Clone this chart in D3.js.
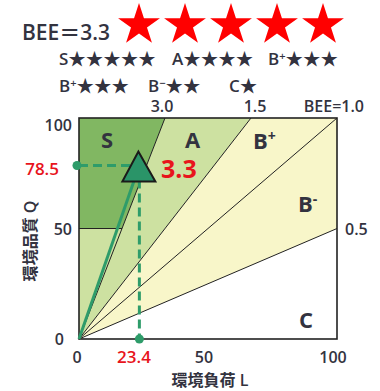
<!DOCTYPE html>
<meta charset="utf-8">
<script src="https://d3js.org/d3.v7.min.js"></script>
<style>
  body { margin: 0; background: #fff; }
  text { font-family: "Open Sans", "Noto Sans CJK JP", sans-serif; }
  .cjk { font-family: "Noto Sans CJK JP", sans-serif; }
</style>
<div id="chart"></div>
<script>

// BEE boundary lines (Q = BEE * L)
var beeLines = [3.0, 1.5, 1.0, 0.5];
var beeLabels = ["3.0", "1.5", "BEE=1.0", "0.5"];
// the assessed building
var pointL = 23.4, pointQ = 78.5, pointBee = 3.3;
var starCount = 5;
// rank legend rows
var rankRow1 = [{r: "S", sup: "", stars: 5}, {r: "A", sup: "", stars: 4}, {r: "B", sup: "+", stars: 3}];
var rankRow2 = [{r: "B", sup: "+", stars: 3}, {r: "B", sup: "\u2212", stars: 2}, {r: "C", sup: "", stars: 1}];
var xTicks = [0, 50, 100];
var yTicks = [0, 50, 100];

var W = 380, H = 391;
var svg = d3.select("#chart").append("svg").attr("width", W).attr("height", H);

var x = d3.scaleLinear().domain([0, 100]).range([79, 337]);
var y = d3.scaleLinear().domain([0, 100]).range([339, 118]);

var ink = "#33333f", red = "#e8141c", green = "#2e9c6a";

// regions
var regions = [
  {fill: "#cde1a1", pts: [[0,0],[0,50],[50/beeLines[0],50],[100/beeLines[0],100],[100/beeLines[1],100]]},
  {fill: "#81b762", pts: [[0,50],[0,100],[100/beeLines[0],100],[50/beeLines[0],50]]},
  {fill: "#f8f6c9", pts: [[0,0],[100/beeLines[1],100],[100,100],[100,100*beeLines[3]]]}
];
var line = d3.line().x(function(d){ return x(d[0]); }).y(function(d){ return y(d[1]); });
svg.selectAll(".reg").data(regions).enter().append("path")
  .attr("d", function(d){ return line(d.pts) + "Z"; })
  .attr("fill", function(d){ return d.fill; });

// S bottom edge
svg.append("path").attr("d", line([[0,50],[50/beeLines[0],50]]))
  .attr("stroke", "#222").attr("stroke-width", 1).attr("fill", "none");

// BEE lines
svg.selectAll(".bee").data(beeLines).enter().append("path")
  .attr("d", function(b){
    var end = b >= 1 ? [100 / b, 100] : [100, 100 * b];
    return line([[0,0], end]);
  })
  .attr("stroke", "#222").attr("stroke-width", 1).attr("fill", "none");

// frame
svg.append("rect").attr("x", x(0)).attr("y", y(100))
  .attr("width", x(100) - x(0)).attr("height", y(0) - y(100))
  .attr("fill", "none").attr("stroke", "#222").attr("stroke-width", 1.6);

// BEE labels
var beePos = [[162, 112, "middle"], [255, 112, "middle"], [364, 112, "end"], [345, 235, "start"]];
svg.selectAll(".bl").data(beeLabels).enter().append("text")
  .attr("x", function(d, i){ return beePos[i][0]; })
  .attr("y", function(d, i){ return beePos[i][1]; })
  .attr("text-anchor", function(d, i){ return beePos[i][2]; })
  .attr("font-size", 16).attr("font-weight", 600).attr("fill", ink)
  .text(function(d){ return d; });

// ticks
var yTickBase = {0: 345, 50: 235, 100: 131};
svg.selectAll(".yt").data(yTicks).enter().append("text")
  .attr("x", function(d){ return d === 0 ? 64 : 72; })
  .attr("y", function(d){ return yTickBase[d]; })
  .attr("text-anchor", "end").attr("font-size", 16).attr("font-weight", 600).attr("fill", ink)
  .text(function(d){ return d; });
svg.selectAll(".xt").data(xTicks).enter().append("text")
  .attr("x", function(d){ return d === 0 ? x(d) - 2 : x(d) - 4; })
  .attr("y", 363)
  .attr("text-anchor", "middle").attr("font-size", 16).attr("font-weight", 600).attr("fill", ink)
  .text(function(d){ return d; });

// axis titles
svg.append("text").attr("x", 210).attr("y", 386).attr("text-anchor", "middle")
  .attr("font-size", 16).attr("font-weight", 600).attr("fill", ink).text("環境負荷 L");
svg.append("text").attr("transform", "translate(36,241) rotate(-90)").attr("text-anchor", "middle")
  .attr("font-size", 16).attr("font-weight", 600).attr("fill", ink).text("環境品質 Q");

// rank labels in the plot
function rankLabel(cx, cy, r, sup) {
  var t = svg.append("text").attr("x", cx).attr("y", cy)
    .attr("font-size", 22).attr("font-weight", 700).attr("fill", ink).text(r);
  if (sup) t.append("tspan").attr("font-size", 14).attr("dy", -8).text(sup);
}
rankLabel(101, 148, "S", "");
rankLabel(185, 148, "A", "");
rankLabel(253, 149, "B", "+");
rankLabel(298, 212, "B", "-");
rankLabel(299, 328, "C", "");

// guide lines to the point
var px = x(pointL), py = y(pointQ);
svg.append("path").attr("d", line([[0, pointQ], [pointL, pointQ]]))
  .attr("stroke", green).attr("stroke-width", 3).attr("stroke-dasharray", "9,5").attr("fill", "none");
svg.append("path").attr("d", line([[pointL, pointQ], [pointL, 0]]))
  .attr("stroke", green).attr("stroke-width", 3).attr("stroke-dasharray", "9,5").attr("fill", "none");
svg.append("circle").attr("cx", x(0) - 2).attr("cy", py).attr("r", 4.5).attr("fill", green);
svg.append("circle").attr("cx", px).attr("cy", y(0)).attr("r", 4.5).attr("fill", green);
svg.append("path").attr("d", line([[0, 0], [pointL, pointQ]]))
  .attr("stroke", green).attr("stroke-width", 3).attr("fill", "none");

// triangle marker
svg.append("path")
  .attr("d", "M" + (px - 1) + "," + (py - 14) + "L" + (px + 16) + "," + (py + 16) + "L" + (px - 17) + "," + (py + 16) + "Z")
  .attr("fill", "#2a9468").attr("stroke", "#1a1a1a").attr("stroke-width", 2).attr("stroke-linejoin", "miter");

// red values
svg.append("text").attr("x", 161).attr("y", 178).attr("font-size", 25).attr("font-weight", 700)
  .attr("fill", red).text(pointBee.toFixed(1));
svg.append("text").attr("x", 59).attr("y", 175).attr("text-anchor", "end").attr("font-size", 17).attr("font-weight", 600)
  .attr("fill", red).text(pointQ.toFixed(1));
svg.append("text").attr("x", 134).attr("y", 363).attr("text-anchor", "middle").attr("font-size", 17).attr("font-weight", 600)
  .attr("fill", red).text(pointL.toFixed(1));

// header
svg.append("text").attr("x", 22).attr("y", 40).attr("font-size", 21).attr("font-weight", 600)
  .attr("fill", ink).text("BEE＝" + pointBee.toFixed(1));
var star = d3.symbol().type(d3.symbolStar).size(543);
svg.selectAll(".bigstar").data(d3.range(starCount)).enter().append("path")
  .attr("d", star)
  .attr("transform", function(d){ return "translate(" + (139 + d * 46) + ",25)"; })
  .attr("fill", "#ff0000");

// rank legend rows
function legendRow(items, xs, yy) {
  items.forEach(function(it, i) {
    var t = svg.append("text").attr("x", xs[i]).attr("y", yy)
      .attr("font-size", 17).attr("font-weight", 600).attr("fill", ink).text(it.r);
    if (it.sup) t.append("tspan").attr("font-size", 11).attr("dy", -5).text(it.sup);
    t.append("tspan").attr("class", "cjk").attr("font-size", 17.5).attr("dy", it.sup ? 5 : 0)
      .text(d3.range(it.stars).map(function(){ return "★"; }).join(""));
  });
}
legendRow(rankRow1, [59, 172, 268], 65);
legendRow(rankRow2, [59, 148, 229], 92);

</script>
